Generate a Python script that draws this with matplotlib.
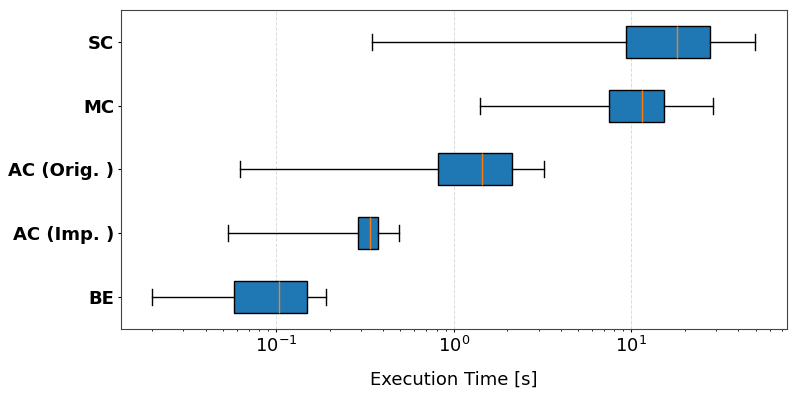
import numpy as np
import matplotlib
matplotlib.use("Agg")
import matplotlib.pyplot as plt

# methods, bottom to top
labels = ["BE", "AC (Imp. )", "AC (Orig. )", "MC", "SC"]
whislo = [0.0199, 0.0531, 0.0628, 1.40, 0.346]
q1 = [0.058, 0.289, 0.813, 7.43, 9.37]
med = [0.103, 0.337, 1.44, 11.4, 18.1]
q3 = [0.149, 0.374, 2.12, 15.3, 27.8]
whishi = [0.191, 0.491, 3.20, 28.9, 49.7]

stats = []
for i in range(len(labels)):
    stats.append({"label": labels[i], "whislo": whislo[i], "q1": q1[i],
                  "med": med[i], "q3": q3[i], "whishi": whishi[i], "fliers": []})

fig, ax = plt.subplots(figsize=(7.97, 3.99), dpi=100)
ax.bxp(stats, vert=False, patch_artist=True, showfliers=False, widths=0.5,
       boxprops=dict(facecolor="#1f77b4", edgecolor="black"),
       medianprops=dict(color="#ff7f0e"),
       whiskerprops=dict(color="black"),
       capprops=dict(color="black"))

ax.set_xscale("log")
ax.set_xlim(0.01337, 74.8)
ax.set_ylim(0.5, 5.5)
ax.grid(axis="x", which="major", linestyle="--", linewidth=0.7,
        color="lightgray", alpha=0.8)
ax.set_axisbelow(True)
for sp in ax.spines.values():
    sp.set_color("#444444")

ax.tick_params(axis="both", which="major", length=2.5, pad=2.5)
ax.tick_params(axis="x", which="minor", length=1.5)
ax.tick_params(axis="x", labelsize=13)
for t in ax.get_yticklabels():
    t.set_fontsize(13)
    t.set_fontweight("bold")
ax.set_xlabel("Execution Time [s]", fontsize=13, labelpad=11)

fig.subplots_adjust(left=0.152, right=0.987, top=0.975, bottom=0.176)
fig.savefig("out.png", dpi=100)
